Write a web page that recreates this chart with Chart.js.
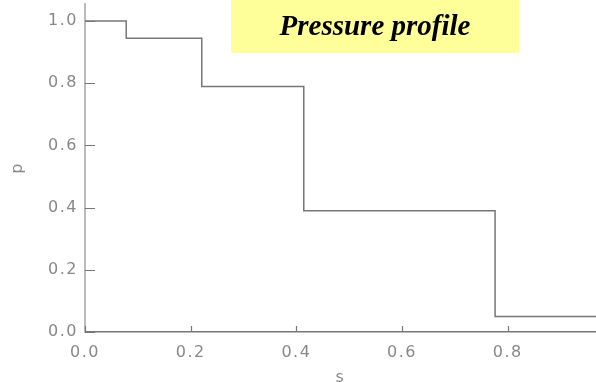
<!DOCTYPE html>
<html>
<head>
<meta charset="utf-8">
<script src="https://cdn.jsdelivr.net/npm/chart.js@4.4.1/dist/chart.umd.min.js"></script>
<style>
  html, body { margin: 0; padding: 0; background: #fff; }
  #wrap { width: 596px; height: 382px; position: relative; }
</style>
</head>
<body>
<div id="wrap"><canvas id="profile"></canvas></div>
<script>
'use strict';

// step profile: p is constant from each s start to the next one
const sStart = [0.0, 0.078, 0.221, 0.414, 0.776, 0.967];
const pValue = [1.0, 0.945, 0.79, 0.39, 0.05, 0.05];
const xTicks = [0.0, 0.2, 0.4, 0.6, 0.8];
const yTicks = [0.0, 0.2, 0.4, 0.6, 0.8, 1.0];
const titleText = 'Pressure profile';

const tickFont = { family: 'DejaVu Sans', size: 16 };
const gray = '#888';

// the original labels are a bit wider, open up the letters slightly
const wideText = {
  id: 'wideText',
  beforeDraw(chart) {
    chart.ctx.letterSpacing = '1.5px';
  }
};

// short tick marks drawn inward from the axes, like the original plot
const innerTicks = {
  id: 'innerTicks',
  afterDatasetsDraw(chart) {
    const ctx = chart.ctx;
    const area = chart.chartArea;
    const xs = chart.scales.x, ys = chart.scales.y;
    ctx.save();
    ctx.strokeStyle = '#777';
    ctx.lineWidth = 1.2;
    ctx.beginPath();
    yTicks.forEach((v) => {
      const py = Math.round(ys.getPixelForValue(v)) + 0.5;
      ctx.moveTo(area.left, py);
      ctx.lineTo(area.left + 10, py);
    });
    xTicks.forEach((v) => {
      const px = Math.round(xs.getPixelForValue(v)) + 0.5;
      ctx.moveTo(px, area.bottom);
      ctx.lineTo(px, area.bottom - 6);
    });
    ctx.stroke();
    ctx.restore();
  }
};

// yellow title box at the top
const titleBox = {
  id: 'titleBox',
  afterDraw(chart) {
    const ctx = chart.ctx;
    ctx.save();
    ctx.letterSpacing = '0px';
    ctx.fillStyle = '#ffff99';
    ctx.fillRect(231, 0, 288, 53);
    ctx.fillStyle = '#000';
    ctx.font = 'italic bold 29px "Liberation Serif"';
    ctx.textAlign = 'center';
    ctx.textBaseline = 'alphabetic';
    ctx.fillText(titleText, 375, 35);
    ctx.restore();
  }
};

const ctx = document.getElementById('profile').getContext('2d');
new Chart(ctx, {
  type: 'line',
  data: {
    datasets: [{
      data: sStart.map((s, i) => ({ x: s, y: pValue[i] })),
      stepped: 'before',
      borderColor: '#777',
      borderWidth: 1.5,
      pointRadius: 0,
      fill: false,
    }],
  },
  options: {
    responsive: true,
    maintainAspectRatio: false,
    animation: false,
    layout: { padding: { top: 4, right: 0, left: 0, bottom: 0 } },
    plugins: {
      legend: { display: false },
      tooltip: { enabled: false },
    },
    scales: {
      x: {
        type: 'linear',
        min: 0,
        max: 0.967,
        afterBuildTicks: (scale) => { scale.ticks = xTicks.map((v) => ({ value: v })); },
        afterFit: (scale) => {
          scale.height = 50;
          scale.paddingLeft = 0;
          scale.paddingRight = 0;
        },
        grid: { display: false, drawTicks: false },
        border: { display: true, color: '#777', width: 1.5 },
        ticks: {
          font: tickFont,
          color: gray,
          padding: 11,
          maxRotation: 0,
          autoSkip: false,
          callback: (v) => v.toFixed(1),
        },
        title: {
          display: true,
          text: 's',
          font: tickFont,
          color: gray,
          padding: { top: 0, bottom: -5 },
        },
      },
      y: {
        type: 'linear',
        min: 0,
        max: 1.055,
        afterBuildTicks: (scale) => { scale.ticks = yTicks.map((v) => ({ value: v })); },
        afterFit: (scale) => {
          scale.width = 85;
          scale.paddingTop = 0;
          scale.paddingBottom = 0;
        },
        grid: { display: false, drawTicks: false },
        border: { display: true, color: '#bbb', width: 2 },
        ticks: {
          font: tickFont,
          color: gray,
          padding: 7,
          autoSkip: false,
          callback: (v) => v.toFixed(1),
        },
        title: {
          display: true,
          text: 'p',
          font: tickFont,
          color: gray,
          padding: { top: 8, bottom: 0 },
        },
      },
    },
  },
  plugins: [wideText, innerTicks, titleBox],
});
</script>
</body>
</html>
